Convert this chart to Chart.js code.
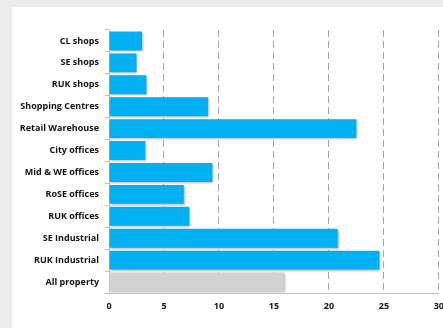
<!DOCTYPE html>
<html lang="en">
<head>
  <meta charset="UTF-8" />
  <title>Returns by sector</title>
  <script src="https://cdn.jsdelivr.net/npm/chart.js"></script>
  <style>
    html, body {
      margin: 0;
      width: 443px;
      height: 328px;
      overflow: hidden;
      background-color: #ebecee;
    }
    .panel {
      position: absolute;
      left: 12px;
      top: 7px;
      width: 460px;
      height: 330px;
      background-color: white;
    }
    .chart-box {
      position: absolute;
      left: 0;
      top: 0;
      width: 440px;
      height: 321px;
    }
  </style>
</head>
<body>
  <div class="panel">
    <div class="chart-box"><canvas id="barChart"></canvas></div>
  </div>

  <script>
    const categories = [
      'CL shops', 'SE shops', 'RUK shops', 'Shopping Centres', 'Retail Warehouse',
      'City offices', 'Mid & WE offices', 'RoSE offices', 'RUK offices',
      'SE Industrial', 'RUK Industrial', 'All property'
    ];
    const values = [3.0, 2.5, 3.4, 9.0, 22.5, 3.3, 9.4, 6.8, 7.3, 20.8, 24.6, 15.9];
    const xTicks = [0, 5, 10, 15, 20, 25, 30];

    const blue = '#00b0f0';
    const grey = '#d2d2d2';

    // soft drop shadow under the bars
    const barShadow = {
      id: 'barShadow',
      beforeDatasetsDraw(chart) {
        const ctx = chart.ctx;
        ctx.save();
        ctx.shadowColor = 'rgba(0,0,0,0.3)';
        ctx.shadowBlur = 2;
        ctx.shadowOffsetX = 1;
        ctx.shadowOffsetY = 1;
      },
      afterDatasetsDraw(chart) {
        chart.ctx.restore();
      }
    };

    const font = { family: '"Open Sans", sans-serif', size: 9, weight: 'bold' };

    new Chart(document.getElementById('barChart').getContext('2d'), {
      type: 'bar',
      data: {
        labels: categories,
        datasets: [{
          data: values,
          backgroundColor: categories.map(c => c === 'All property' ? grey : blue),
          borderWidth: 0,
          barPercentage: 0.86,
          categoryPercentage: 1
        }]
      },
      options: {
        indexAxis: 'y',
        responsive: true,
        maintainAspectRatio: false,
        animation: false,
        layout: { padding: { top: 23, right: 12, left: 0, bottom: 0 } },
        plugins: {
          legend: { display: false },
          tooltip: { enabled: false }
        },
        scales: {
          x: {
            min: 0,
            max: 30,
            afterBuildTicks(scale) {
              scale.ticks = xTicks.map(v => ({ value: v }));
            },
            afterFit(scale) { scale.height = 35; },
            grid: {
              color: ctx => ctx.tick && ctx.tick.value === 0 ? 'rgba(0,0,0,0)' : '#a6a6a6',
              drawTicks: false
            },
            border: { display: true, color: '#bfbfbf', dash: [7, 4] },
            ticks: { color: '#111', font: font, padding: 8, maxRotation: 0 }
          },
          y: {
            afterFit(scale) { scale.width = 97; },
            grid: {
              offset: true,
              drawOnChartArea: false,
              drawTicks: true,
              tickLength: 4,
              color: '#bfbfbf'
            },
            border: { display: true, color: '#bfbfbf' },
            ticks: { color: '#111', font: font, padding: 6 }
          }
        }
      },
      plugins: [barShadow]
    });
  </script>
</body>
</html>
